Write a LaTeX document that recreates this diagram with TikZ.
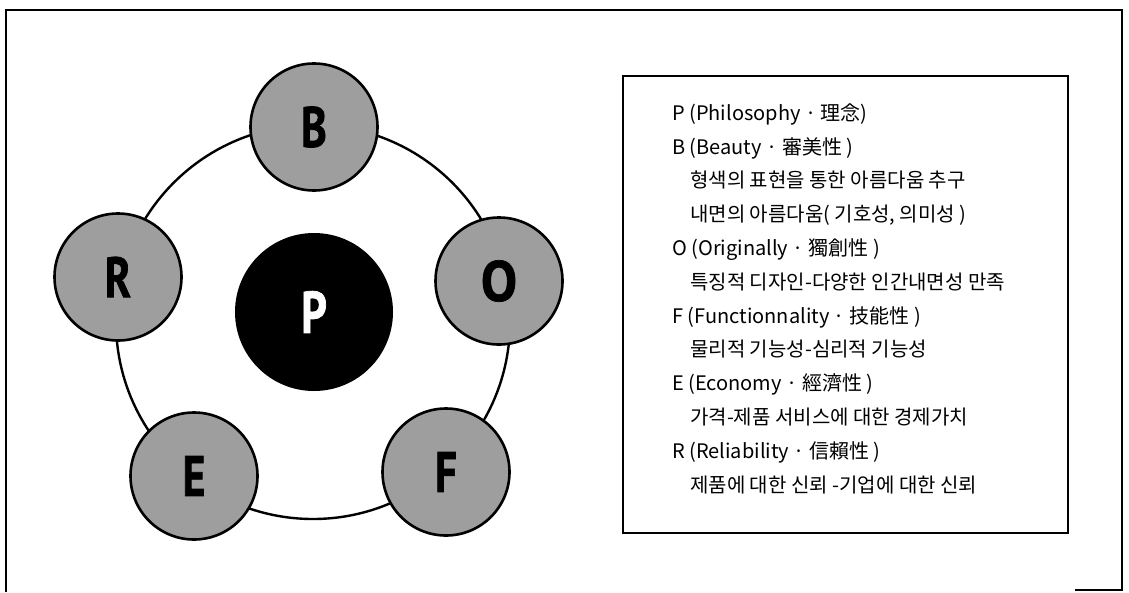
\documentclass[tikz,border=0pt]{standalone}
\usepackage{fontspec}
\setmainfont{Noto Sans CJK KR}
\newfontfamily\lettfont[FakeStretch=0.76,FakeBold=1.2]{PT Sans}
\newfontfamily\roundfont[FakeStretch=0.95,FakeBold=1.2]{PT Sans}
\begin{document}
\begin{tikzpicture}[x=1pt,y=-1pt,
  sat/.style={circle, draw, line width=2.6pt, fill=black!38, minimum size=127pt,
    inner sep=0pt, font=\lettfont\bfseries\fontsize{57}{57}\selectfont},
  roundsat/.style={sat, font=\roundfont\bfseries\fontsize{57}{57}\selectfont},
  core/.style={circle, fill=black, minimum size=158pt, inner sep=0pt, text=white,
    font=\lettfont\bfseries\fontsize{59}{59}\selectfont},
  ring/.style={circle, draw, line width=2.4pt, minimum size=394pt, inner sep=0pt},
  legendbox/.style={draw, line width=1.8pt, minimum width=445pt, minimum height=457pt,
    anchor=north west, inner sep=0pt},
  legendtext/.style={anchor=base west, inner sep=0pt, font=\fontsize{20}{24}\selectfont}]
\useasboundingbox (0,0) rectangle (1129,592);

% outer frame (open at the lower left)
\draw[line width=1.8pt] (1075,590) -- (1122,590) -- (1122,10) -- (6,10) -- (6,592);

% ring joining the five elements
\node[ring] (ring) at (313,322) {};

% centre and satellites
\node[core] (P) at (314,312) {P};
\node[sat] (B) at (314,127) {B};
\node[roundsat] (O) at (499,281) {O};
\node[sat] (F) at (446,472) {F};
\node[sat] (E) at (194,476) {E};
\node[sat] (R) at (118,277) {R};

% legend
\node[legendbox] (legend) at (622,75) {};
\node[legendtext] (t1)  at (672,120.3) {P (Philosophy · 理念)};
\node[legendtext] (t2)  at (672,154.1) {B (Beauty · 審美性 )};
\node[legendtext] (t3)  at (690,187.9) {형색의 표현을 통한 아름다움 추구};
\node[legendtext] (t4)  at (690,221.7) {내면의 아름다움( 기호성, 의미성 )};
\node[legendtext] (t5)  at (672,255.5) {O (Originally · 獨創性 )};
\node[legendtext] (t6)  at (690,289.3) {특징적 디자인-다양한 인간내면성 만족};
\node[legendtext] (t7)  at (672,323.1) {F (Functionnality · 技能性 )};
\node[legendtext] (t8)  at (690,356.9) {물리적 기능성-심리적 기능성};
\node[legendtext] (t9)  at (672,390.7) {E (Economy · 經濟性 )};
\node[legendtext] (t10) at (690,424.5) {가격-제품 서비스에 대한 경제가치};
\node[legendtext] (t11) at (672,458.3) {R (Reliability · 信賴性 )};
\node[legendtext] (t12) at (690,492.1) {제품에 대한 신뢰 -기업에 대한 신뢰};
\end{tikzpicture}
\end{document}
